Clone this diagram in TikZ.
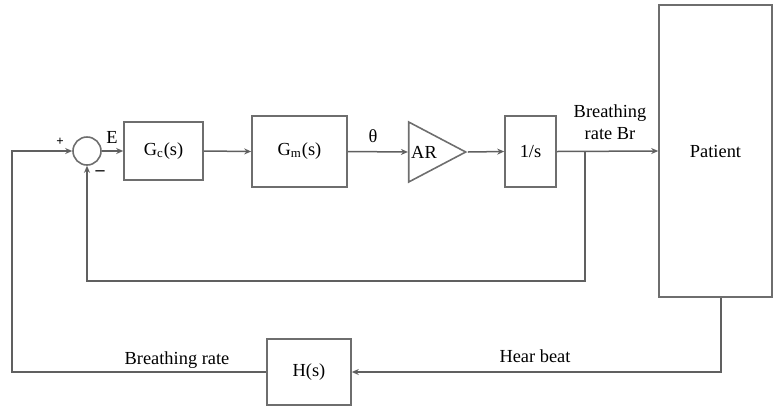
\documentclass[tikz,border=0pt]{standalone}
\usepackage{fontspec}
\setmainfont{Liberation Serif}
\usepackage{tikz}
\usetikzlibrary{arrows.meta,shapes.geometric}
\definecolor{wiregray}{RGB}{96,96,96}
\definecolor{boxgray}{RGB}{110,110,110}

\begin{document}
\begin{tikzpicture}[x=0.5pt, y=-0.5pt,
    block/.style={draw=boxgray, line width=0.8pt, fill=white, align=center,
                  font=\fontsize{9.2}{11}\selectfont, inner sep=0pt},
    summer/.style={draw=boxgray, line width=0.8pt, circle, minimum size=14pt, inner sep=0pt},
    amp/.style={draw=boxgray, line width=0.8pt, isosceles triangle, isosceles triangle stretches,
                shape border rotate=0, minimum width=30pt, minimum height=28.5pt, inner sep=0pt,
                font=\fontsize{9.2}{11}\selectfont},
    wire/.style={draw=wiregray, line width=0.75pt},
    arr/.style={wire, -{Stealth[length=3.5pt,width=3pt]}},
    lbl/.style={font=\fontsize{9.2}{11}\selectfont, align=center, inner sep=0pt}]
  \useasboundingbox (0,0) rectangle (775,408);
  % forward path
  \node[summer] (sum) at (87,151) {};
  \node[block, minimum width=39.5pt, minimum height=29pt] (gc) at (163.5,151) {G\textsubscript{c}(s)};
  \node[block, minimum width=47.5pt, minimum height=35.5pt] (gm) at (299.5,151.5) {G\textsubscript{m}(s)};
  \node[amp] (ar) at (430,152) {AR\hspace*{6pt}};
  \node[block, minimum width=25.5pt, minimum height=35.5pt] (one) at (530.5,151.5) {1/s};
  \node[block, minimum width=56.5pt, minimum height=146pt] (patient) at (715.5,151) {Patient};
  % feedback path
  \node[block, minimum width=42pt, minimum height=33pt] (hs) at (309,372) {H(s)};
  \coordinate (br) at (585,151.5);
  \coordinate (fbi) at (585,281);
  \coordinate (hb) at (721,372);
  \coordinate (fbl) at (12,372);

  \draw[arr] (sum.east) -- (gc.west);
  \draw[arr] (gc.east) -- (gm.west);
  \draw[arr] (gm.east) -- (ar.west);
  \draw[arr] (ar.east) -- (one.west);
  \draw[arr] (one.east) -- (patient.west);
  \draw[arr] (br) -- (fbi) -| (sum.south);
  \draw[arr] (hb |- patient.south) -- (hb) -- (hs.east);
  \draw[arr] (hs.west) -- (fbl) |- (sum.west);

  % labels
  \node[lbl, font=\fontsize{6.5}{7}\selectfont\bfseries] (plus) at (60,142) {+};
  \node[lbl, font=\fontsize{9}{10}\selectfont\bfseries] (minus) at (100,173) {–};
  \node[lbl] (e) at (112,137) {E};
  \node[lbl] (theta) at (373,136) {θ};
  \node[lbl] (brlbl) at (610,122) {Breathing\\rate Br};
  \node[lbl] (brate) at (177,360) {Breathing rate};
  \node[lbl] (heart) at (535,356) {Hear beat};
\end{tikzpicture}
\end{document}
